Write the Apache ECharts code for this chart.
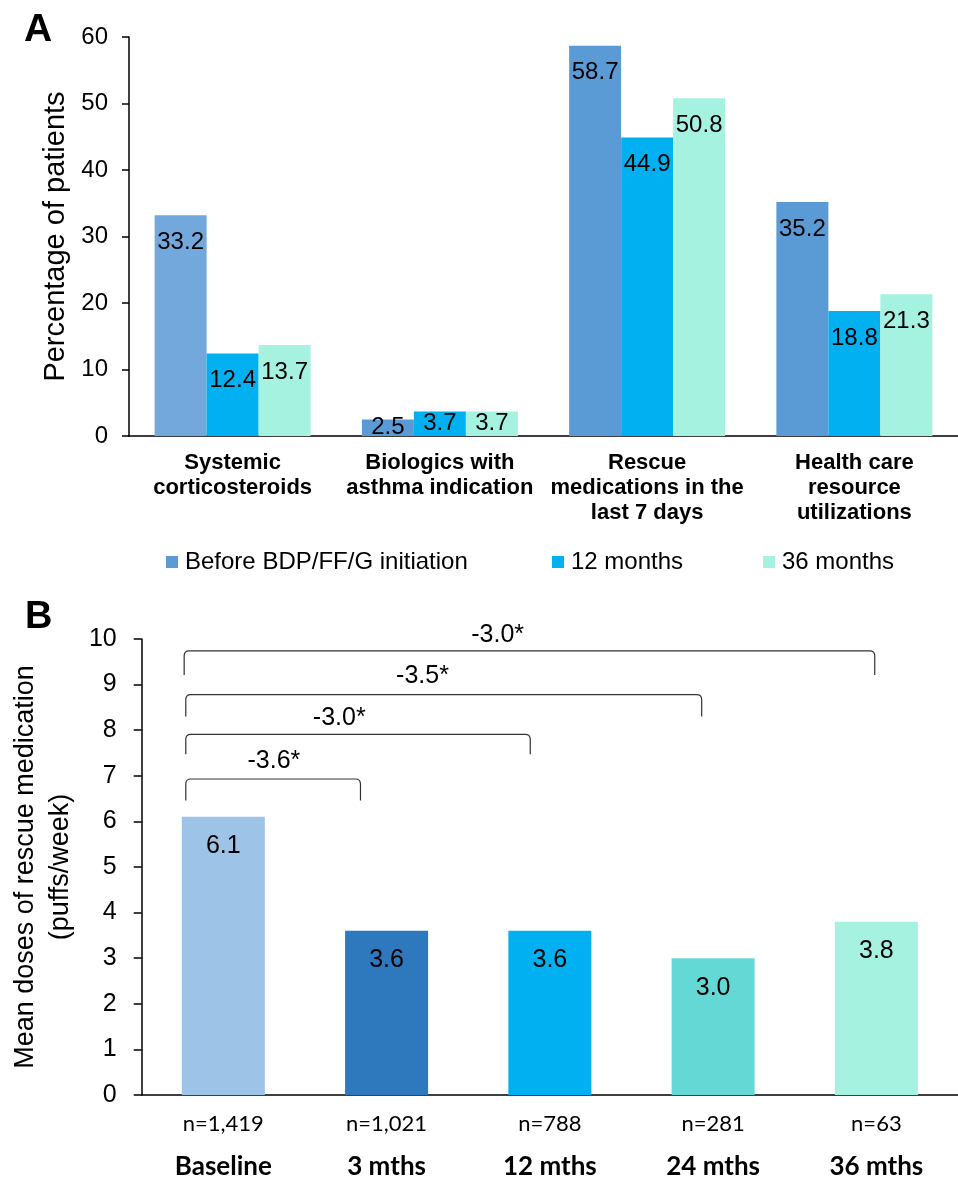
<!DOCTYPE html>
<html>
<head>
<meta charset="utf-8">
<script src="https://cdn.jsdelivr.net/npm/echarts@6/dist/echarts.min.js"></script>
<style>html,body{margin:0;padding:0;background:#fff;}#c{width:958px;height:1180px;}</style>
</head>
<body>
<div id="c"></div>
<script>
// ---------- Panel A data ----------
const categoriesA = ['Systemic\ncorticosteroids', 'Biologics with\nasthma indication', 'Rescue\nmedications in the\nlast 7 days', 'Health care\nresource\nutilizations'];
const seriesNamesA = ['Before BDP/FF/G initiation', '12 months', '36 months'];
const beforeValues = [33.2, 2.5, 58.7, 35.2];
const month12Values = [12.4, 3.7, 44.9, 18.8];
const month36Values = [13.7, 3.7, 50.8, 21.3];
const yTicksA = { min: 0, max: 60, interval: 10 };

// ---------- Panel B data ----------
const categoriesB = ['Baseline', '3 mths', '12 mths', '24 mths', '36 mths'];
const nLabelsB = ['n=1,419', 'n=1,021', 'n=788', 'n=281', 'n=63'];
const dosesB = [6.1, 3.6, 3.6, 3.0, 3.8];
const yTicksB = { min: 0, max: 10, interval: 1 };

// brackets (x in category units, 0 = Baseline centre; y in puffs/week)
const bracketLabels = ['-3.6*', '-3.0*', '-3.5*', '-3.0*'];
const bracketLeft = [-0.23, -0.23, -0.23, -0.24];
const bracketRight = [0.84, 1.88, 2.93, 3.99];
const bracketTop = [6.93, 7.91, 8.78, 9.74];
const bracketLegBottom = [6.46, 7.47, 8.30, 9.21];
const bracketLabelX = [0.31, 0.71, 1.22, 1.68];
const bracketLabelY = [7.33, 8.27, 9.19, 10.09];

// ---------- styles ----------
const FONT = 'Liberation Sans, Arial, sans-serif';
const FONT_B = 'Lato, Carlito, Calibri, sans-serif';
const colorsA = ['#5B9BD5', '#00B0F0', '#A6F2E1'];
const firstBarColorA = '#72A8DB';
const colorsB = ['#9DC3E6', '#2E78BE', '#00B0F0', '#64D8D4', '#A6F2E1'];

const chart = echarts.init(document.getElementById('c'), null, { renderer: 'canvas' });

function barDataA(values, sIdx) {
  return values.map((v, i) => {
    const item = { value: v };
    if (sIdx === 0 && i === 0) item.itemStyle = { color: firstBarColorA };
    if (v < 5) item.label = { position: 'inside' };
    return item;
  });
}

const valuesA = [beforeValues, month12Values, month36Values];

const seriesA = valuesA.map((vals, s) => ({
  name: seriesNamesA[s],
  type: 'bar',
  xAxisIndex: 0,
  yAxisIndex: 0,
  barWidth: 52,
  barGap: '0%',
  itemStyle: { color: colorsA[s] },
  label: {
    show: true,
    position: 'insideTop',
    distance: 15,
    color: '#000',
    fontFamily: FONT,
    fontSize: 24,
    formatter: p => p.value.toFixed(1)
  },
  data: barDataA(vals, s)
}));

const bracketData = bracketLabels.map((t, i) => [bracketLeft[i], bracketRight[i], bracketTop[i], bracketLegBottom[i], bracketLabelX[i], bracketLabelY[i], t]);

const option = {
  animation: false,
  backgroundColor: '#fff',
  graphic: [
    { type: 'text', left: 24, top: 11, style: { text: 'A', font: 'bold 39px ' + FONT, fill: '#000' } },
    { type: 'text', left: 25, top: 599, style: { text: 'B', font: 'bold 38px ' + FONT, fill: '#000' } }
  ],
  legend: seriesNamesA.map((n, i) => ({
    data: [n],
    left: [161, 547, 758][i],
    top: 545,
    icon: 'rect',
    itemWidth: 12,
    itemHeight: 12,
    itemGap: 0,
    textStyle: { fontFamily: FONT, fontSize: 24, color: '#000', padding: [0, 0, 0, 2] }
  })),
  grid: [
    { left: 129, width: 840, top: 37, height: 399 },
    { left: 133, width: 827, top: 639, height: 457 }
  ],
  xAxis: [
    {
      type: 'category', gridIndex: 0, data: categoriesA,
      axisLine: { lineStyle: { color: '#000', width: 1.5 } },
      axisTick: { show: false },
      axisLabel: { color: '#000', fontFamily: FONT, fontWeight: 'bold', fontSize: 22, lineHeight: 25, margin: 14, interval: 0 }
    },
    {
      type: 'category', gridIndex: 1, data: categoriesB,
      axisLine: { lineStyle: { color: '#000', width: 1.5 } },
      axisTick: { show: false },
      axisLabel: { color: '#000', fontFamily: FONT_B, fontWeight: 'bold', fontSize: 26, margin: 59, interval: 0 }
    },
    {
      type: 'category', gridIndex: 1, data: nLabelsB, position: 'bottom',
      axisLine: { show: false }, axisTick: { show: false },
      axisLabel: { color: '#000', fontFamily: FONT_B, fontSize: 22, margin: 18, interval: 0 }
    },
    {
      type: 'value', gridIndex: 1, min: -0.5, max: 4.5, show: false
    }
  ],
  yAxis: [
    {
      type: 'value', gridIndex: 0, min: yTicksA.min, max: yTicksA.max, interval: yTicksA.interval,
      name: 'Percentage of patients', nameLocation: 'middle', nameGap: 55,
      nameTextStyle: { color: '#000', fontFamily: FONT, fontSize: 29 },
      axisLine: { show: true, onZero: false, lineStyle: { color: '#000', width: 1.5 } },
      axisTick: { show: true, length: 7, lineStyle: { color: '#000', width: 1.5 } },
      axisLabel: { color: '#000', fontFamily: FONT, fontSize: 24, margin: 21 },
      splitLine: { show: false }
    },
    {
      type: 'value', gridIndex: 1, min: yTicksB.min, max: yTicksB.max, interval: yTicksB.interval,
      name: 'Mean doses of rescue medication\n(puffs/week)', nameLocation: 'middle', nameGap: 57,
      nameTextStyle: { color: '#000', fontFamily: FONT, fontSize: 27, lineHeight: 35 },
      axisLine: { show: true, onZero: false, lineStyle: { color: '#000', width: 1.5 } },
      axisTick: { show: true, length: 8, lineStyle: { color: '#000', width: 1.5 } },
      axisLabel: { color: '#000', fontFamily: FONT, fontSize: 25, margin: 25 },
      splitLine: { show: false }
    }
  ],
  series: [
    ...seriesA,
    {
      type: 'bar', xAxisIndex: 1, yAxisIndex: 1, barWidth: 83,
      data: dosesB.map((v, i) => ({ value: v, itemStyle: { color: colorsB[i] } })),
      label: {
        show: true, position: 'insideTop', distance: 17, color: '#000',
        fontFamily: FONT, fontSize: 25, formatter: p => p.value.toFixed(1)
      }
    },
    {
      type: 'custom', xAxisIndex: 3, yAxisIndex: 1, clip: false,
      data: bracketData,
      renderItem: function (params, api) {
        const lx = api.coord([api.value(0), api.value(2)])[0];
        const rx = api.coord([api.value(1), api.value(2)])[0];
        const ty = api.coord([api.value(0), api.value(2)])[1];
        const by = api.coord([api.value(0), api.value(3)])[1];
        const lab = api.coord([api.value(4), api.value(5)]);
        const r = 5;
        const d = 'M' + lx + ' ' + by + ' L' + lx + ' ' + (ty + r) + ' Q' + lx + ' ' + ty + ' ' + (lx + r) + ' ' + ty +
          ' L' + (rx - r) + ' ' + ty + ' Q' + rx + ' ' + ty + ' ' + rx + ' ' + (ty + r) + ' L' + rx + ' ' + by;
        return {
          type: 'group',
          children: [
            { type: 'path', shape: { pathData: d }, style: { stroke: '#333', lineWidth: 1.2, fill: null } },
            { type: 'text', x: lab[0], y: lab[1], style: { text: bracketLabels[params.dataIndex], fill: '#000', fontFamily: FONT, fontSize: 25, align: 'center', verticalAlign: 'middle' } }
          ]
        };
      }
    }
  ]
};
chart.setOption(option);
</script>
</body>
</html>
